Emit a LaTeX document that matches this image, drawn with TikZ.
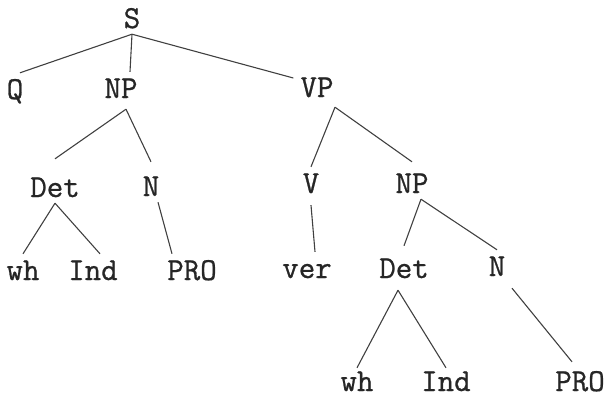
\documentclass[tikz,border=0pt]{standalone}
\usepackage{fontspec}
\newfontfamily\typewr{Latin Modern Mono}[FakeBold=0.8]
\begin{document}
\begin{tikzpicture}[x=1pt,y=1pt,
	cat/.style={font=\fontsize{32}{36}\selectfont\typewr, text=black!85, inner xsep=2pt, inner ysep=6pt, text height=20pt, text depth=0pt},
	leaf/.style={cat, inner ysep=2pt},
	branch/.style={line width=1.1pt, black!75}]
	\useasboundingbox (0,0) rectangle (611,-399);
	% categories
	\node[cat] (S) at (132,-18){S};
	\node[cat] (Q) at (15,-89){Q};
	\node[cat] (NP1) at (121,-88){NP};
	\node[cat] (VP) at (317,-87){VP};
	\node[cat] (Det1) at (55,-187){Det};
	\node[cat] (N1) at (151,-186){N};
	\node[cat] (V) at (311,-183){V};
	\node[cat] (NP2) at (412,-183){NP};
	\node[cat] (wh1) at (23,-270){wh};
	\node[cat] (Ind1) at (93,-270){Ind};
	\node[cat] (PRO1) at (192,-270){PRO};
	\node[cat] (ver) at (307,-268){ver};
	\node[cat] (Det2) at (404,-268){Det};
	\node[cat] (N2) at (497,-266){N};
	\node[leaf] (wh2) at (357,-381){wh};
	\node[leaf] (Ind2) at (446,-381){Ind};
	\node[leaf] (PRO2) at (580,-381){PRO};
	% branches
	\draw[branch] (S.south) -- ([xshift=5pt]Q.north);
	\draw[branch] (S.south) -- ([xshift=9pt]NP1.north);
	\draw[branch] (S.south) -- ([shift={(-5pt,9pt)}]VP.west);
	\draw[branch] ([shift={(5pt,-5pt)}]NP1.south) -- ([yshift=12pt]Det1.north);
	\draw[branch] ([shift={(5pt,-5pt)}]NP1.south) -- ([yshift=8pt]N1.north);
	\draw[branch] ([shift={(18pt,-4pt)}]VP.south) -- (V.north);
	\draw[branch] ([shift={(18pt,-4pt)}]VP.south) -- ([yshift=5pt]NP2.north);
	\draw[branch] (Det1.south) -- (wh1.north);
	\draw[branch] (Det1.south) -- ([xshift=7pt]Ind1.north);
	\draw[branch] ([xshift=7pt]N1.south) -- ([xshift=-20pt]PRO1.north);
	\draw[branch] ([yshift=-6pt]V.south) -- ([xshift=8pt]ver.north);
	\draw[branch] ([xshift=9pt]NP2.south) -- ([yshift=6pt]Det2.north);
	\draw[branch] ([xshift=9pt]NP2.south) -- (N2.north);
	\draw[branch] ([shift={(-6pt,-6pt)}]Det2.south) -- ([yshift=1pt]wh2.north);
	\draw[branch] ([shift={(-6pt,-6pt)}]Det2.south) -- ([yshift=1pt]Ind2.north);
	\draw[branch] ([shift={(15pt,-6pt)}]N2.south) -- ([shift={(-8pt,7pt)}]PRO2.north);
\end{tikzpicture}
\end{document}
